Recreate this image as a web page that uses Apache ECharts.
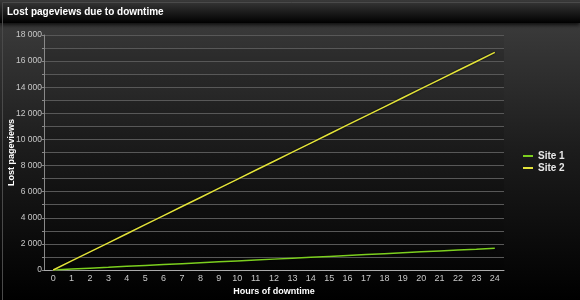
<!DOCTYPE html>
<html><head><meta charset="utf-8">
<script src="https://cdn.jsdelivr.net/npm/echarts@6/dist/echarts.min.js"></script>
<style>html,body{margin:0;padding:0;background:#000}#c{width:580px;height:300px}</style>
</head><body><div id="c"></div>
<script>
const hours = ['0','1','2','3','4','5','6','7','8','9','10','11','12','13','14','15','16','17','18','19','20','21','22','23','24'];
const site1 = [0,69,139,208,278,347,417,486,556,625,694,764,833,903,972,1042,1111,1181,1250,1319,1389,1458,1528,1597,1667];
const site2 = [0,694,1389,2083,2778,3472,4167,4861,5556,6250,6944,7639,8333,9028,9722,10417,11111,11806,12500,13194,13889,14583,15278,15972,16667];
const seriesNames = ['Site 1','Site 2'];
const chartTitle = 'Lost pageviews due to downtime';

const FF = 'Liberation Sans, Arial, sans-serif';
const chart = echarts.init(document.getElementById('c'), null, {renderer:'canvas'});
const fmt = v => (v % 2000 !== 0) ? '' : String(v).replace(/\B(?=(\d{3})+(?!\d))/g, ' ');
chart.setOption({
  animation:false,
  backgroundColor:{type:'linear',x:0,y:0,x2:0,y2:1,colorStops:[{offset:0,color:'#404040'},{offset:0.5,color:'#1c1c1c'},{offset:1,color:'#000'}]},
  graphic:[
    {type:'rect',left:0,top:0,shape:{width:580,height:23},style:{fill:{type:'linear',x:0,y:0,x2:0,y2:1,colorStops:[{offset:0,color:'#3a3a3a'},{offset:1,color:'#000'}]},shadowBlur:4,shadowColor:'rgba(0,0,0,0.8)',shadowOffsetY:2},z:-1},
    {type:'rect',left:0,top:0,shape:{width:579,height:299},style:{fill:'none',stroke:'#4a4a4a',lineWidth:1},z:10,silent:true}
  ],
  title:{text:chartTitle,left:2,top:2,textStyle:{color:'#fff',fontFamily:FF,fontSize:10,fontWeight:'bold'}},
  legend:{orient:'vertical',left:518,top:146,itemWidth:10,itemHeight:2,itemGap:2,icon:'rect',
    textStyle:{color:'#e8e8e8',fontFamily:FF,fontSize:10,fontWeight:'bold'},data:seriesNames},
  grid:{left:44,right:76,top:35,bottom:30,containLabel:false,outerBoundsMode:'none'},
  xAxis:{type:'category',data:hours,boundaryGap:true,name:'Hours of downtime',nameLocation:'middle',nameGap:17,
    nameMoveOverlap:false,
    nameTextStyle:{color:'#fff',fontFamily:FF,fontSize:9,fontWeight:'bold'},
    axisLine:{lineStyle:{color:'#aaa'}},axisTick:{lineStyle:{color:'#aaa'},length:3},
    axisLabel:{color:'#c8c8c8',fontFamily:FF,fontSize:9,margin:4,interval:0}},
  yAxis:{type:'value',min:0,max:18000,interval:1000,name:'Lost pageviews',nameLocation:'middle',nameGap:28,
    nameMoveOverlap:false,
    nameTextStyle:{color:'#fff',fontFamily:FF,fontSize:9,fontWeight:'bold'},
    axisLine:{show:true,lineStyle:{color:'#888'}},axisTick:{show:true,length:2,lineStyle:{color:'#888'}},
    axisLabel:{color:'#c8c8c8',fontFamily:FF,fontSize:8.5,margin:2,formatter:fmt},
    splitLine:{lineStyle:{color:'#585858',width:1}},
    splitArea:{show:true,areaStyle:{color:['rgba(0,0,0,0.12)','rgba(0,0,0,0.04)']}}},
  series:[
    {name:seriesNames[0],type:'line',data:site1,symbol:'none',color:'#7ccf1f',
     lineStyle:{width:1.5,color:'#7ccf1f',shadowColor:'rgba(0,0,0,0.9)',shadowBlur:2}},
    {name:seriesNames[1],type:'line',data:site2,symbol:'none',color:'#e3e33a',
     lineStyle:{width:1.5,color:'#e3e33a',shadowColor:'rgba(0,0,0,0.9)',shadowBlur:2}}
  ]
});
</script></body></html>
